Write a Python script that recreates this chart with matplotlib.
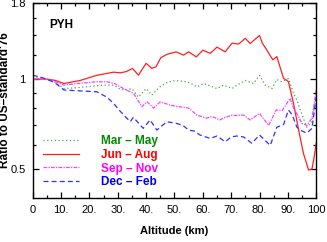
import numpy as np
import matplotlib
matplotlib.use('Agg')
import matplotlib.pyplot as plt
from matplotlib.ticker import FixedLocator, NullFormatter

plt.rcParams['font.family'] = ['Liberation Sans', 'DejaVu Sans']

# altitude (km) and ratio to US-standard'76 for each season
alt_mam = [0, 3, 7, 11, 15, 20, 25, 28.5, 31, 33, 35, 37.3, 40, 42, 45, 47.5, 50.3, 52, 54.4, 56,
           57.9, 60.3, 62.5, 65, 67.3, 70.3, 72.5, 75, 77.9, 80, 82, 84.4, 86.1, 87.9, 90.2, 92,
           93.2, 95, 96.7, 98.5, 100]
mar_may = [1.02, 1.01, 0.99, 0.93, 0.935, 0.945, 0.955, 0.955, 0.924, 0.92, 0.93, 0.87, 0.93, 0.884,
           0.945, 0.975, 0.99, 0.985, 0.98, 0.965, 0.942, 0.967, 0.95, 0.93, 0.955, 0.93, 0.96, 0.99,
           0.967, 1.03, 0.955, 0.93, 0.997, 0.98, 1.005, 0.896, 0.85, 0.76, 0.69, 0.72, 0.87]

alt_jja = [0, 5, 8, 11, 16.8, 22.6, 28.5, 31, 33, 35.2, 37.3, 40, 42, 43.5, 45.2, 47.3, 50.6, 53.2,
           55, 57.7, 60, 62.6, 65, 67.9, 70.3, 72.6, 75, 76.7, 80, 81, 82.6, 84.7, 86.1, 88.5, 89.7,
           90.2, 92, 93.8, 95.5, 97.3, 98.5, 99.3, 100]
jun_aug = [1.0, 1.0, 0.99, 0.967, 0.99, 1.03, 1.055, 1.05, 1.06, 1.086, 1.031, 1.13, 1.086, 1.10,
           1.18, 1.21, 1.234, 1.203, 1.234, 1.187, 1.25, 1.22, 1.28, 1.234, 1.32, 1.31, 1.37, 1.316,
           1.40, 1.32, 1.25, 1.16, 1.19, 1.005, 0.99, 0.98, 0.83, 0.675, 0.564, 0.496, 0.50, 0.55, 0.61]

alt_son = [0, 3, 7, 11, 15, 22.6, 26.2, 29, 30.9, 33, 35.6, 38.5, 40.3, 42.6, 45, 48.5, 51, 55,
           57.9, 61.4, 62.6, 64, 66, 68, 70.3, 72, 74.4, 76.7, 80, 83.2, 85.9, 88, 90.8, 92, 93.8,
           95, 96.7, 98.5, 100]
sep_nov = [1.0, 1.0, 0.99, 0.955, 0.965, 0.98, 0.98, 0.965, 0.942, 0.92, 0.896, 0.808, 0.84, 0.80,
           0.84, 0.818, 0.81, 0.80, 0.758, 0.74, 0.748, 0.745, 0.73, 0.745, 0.758, 0.755, 0.758,
           0.73, 0.768, 0.70, 0.788, 0.785, 0.862, 0.80, 0.748, 0.71, 0.70, 0.74, 0.92]

alt_djf = [0, 2, 5, 8, 11, 15, 20, 22.6, 26.2, 28.5, 30.9, 34.4, 35.5, 39, 41.4, 43.8, 47.3, 50.9,
           53, 55, 57, 59, 62.6, 65, 67.9, 70, 72, 74.4, 77.3, 80, 83.8, 86.1, 88.5, 90.2, 91.5,
           93.2, 95, 96.7, 98.5, 100]
dec_feb = [1.03, 1.02, 1.0, 0.97, 0.92, 0.915, 0.91, 0.907, 0.87, 0.83, 0.78, 0.72, 0.745, 0.684,
           0.73, 0.675, 0.72, 0.71, 0.70, 0.675, 0.67, 0.65, 0.633, 0.645, 0.617, 0.64, 0.645, 0.64,
           0.61, 0.65, 0.60, 0.69, 0.705, 0.788, 0.76, 0.69, 0.67, 0.66, 0.684, 0.87]

labels = ['Mar \u2013 May', 'Jun \u2013 Aug', 'Sep \u2013 Nov', 'Dec \u2013 Feb']
xticks = [0, 10, 20, 30, 40, 50, 60, 70, 80, 90, 100]
xtick_labels = ['0', '10.', '20.', '30.', '40.', '50.', '60.', '70.', '80.', '90.', '100']
yticks = [0.5, 1, 1.8]
ytick_labels = ['0.5', '1', '1.8']
yminor = [0.6, 0.7, 0.8, 0.9, 1.2, 1.4, 1.6]

fig = plt.figure(figsize=(3.27, 2.42), dpi=100)
ax = fig.add_axes([0.100, 0.182, 0.867, 0.806])

ax.plot(alt_mam, mar_may, color='#44aa44', lw=0.9, ls=(0, (1, 2)), label=labels[0])
ax.plot(alt_jja, jun_aug, color='#ff2020', lw=0.9, ls='-', label=labels[1])
ax.plot(alt_son, sep_nov, color='#ff40ff', lw=0.9, ls=(0, (3, 1, 1, 1)), label=labels[2])
ax.plot(alt_djf, dec_feb, color='#3030ff', lw=0.9, ls=(0, (4, 2.5)), label=labels[3])

ax.set_yscale('log')
ax.set_xlim(0, 100)
ax.set_ylim(0.4, 1.8)

ax.set_xticks(xticks)
ax.set_xticklabels(xtick_labels)
ax.xaxis.set_minor_locator(FixedLocator(np.arange(5, 100, 10)))
ax.yaxis.set_major_locator(FixedLocator(yticks))
ax.set_yticklabels(ytick_labels)
ax.yaxis.set_minor_locator(FixedLocator(yminor))
ax.yaxis.set_minor_formatter(NullFormatter())

ax.tick_params(which='both', direction='in', top=True, right=True, labelsize=8, width=0.9)
ax.tick_params(which='major', length=4.5, pad=5)
ax.tick_params(which='minor', length=2.5)
for s in ax.spines.values():
    s.set_linewidth(1.0)

ax.set_xlabel('Altitude (km)', fontsize=8, fontweight='bold', labelpad=8)
ax.set_ylabel("Ratio to US\u2013standard'76", fontsize=8.5, fontweight='bold')
ax.yaxis.set_label_coords(-0.078, 0.5)

ax.text(0.06, 0.87, 'PYH', transform=ax.transAxes, fontsize=8.5, fontweight='bold')

leg = ax.legend(loc='lower left', bbox_to_anchor=(0.0, -0.005), frameon=False,
                handlelength=3.0, handletextpad=1.9, labelspacing=0.15,
                prop={'size': 8.5, 'weight': 'bold'})
text_colors = ['#008c00', '#ff0000', '#ff00ff', '#0000ff']
for t, c in zip(leg.get_texts(), text_colors):
    t.set_color(c)

fig.savefig('out.png', dpi=100)
